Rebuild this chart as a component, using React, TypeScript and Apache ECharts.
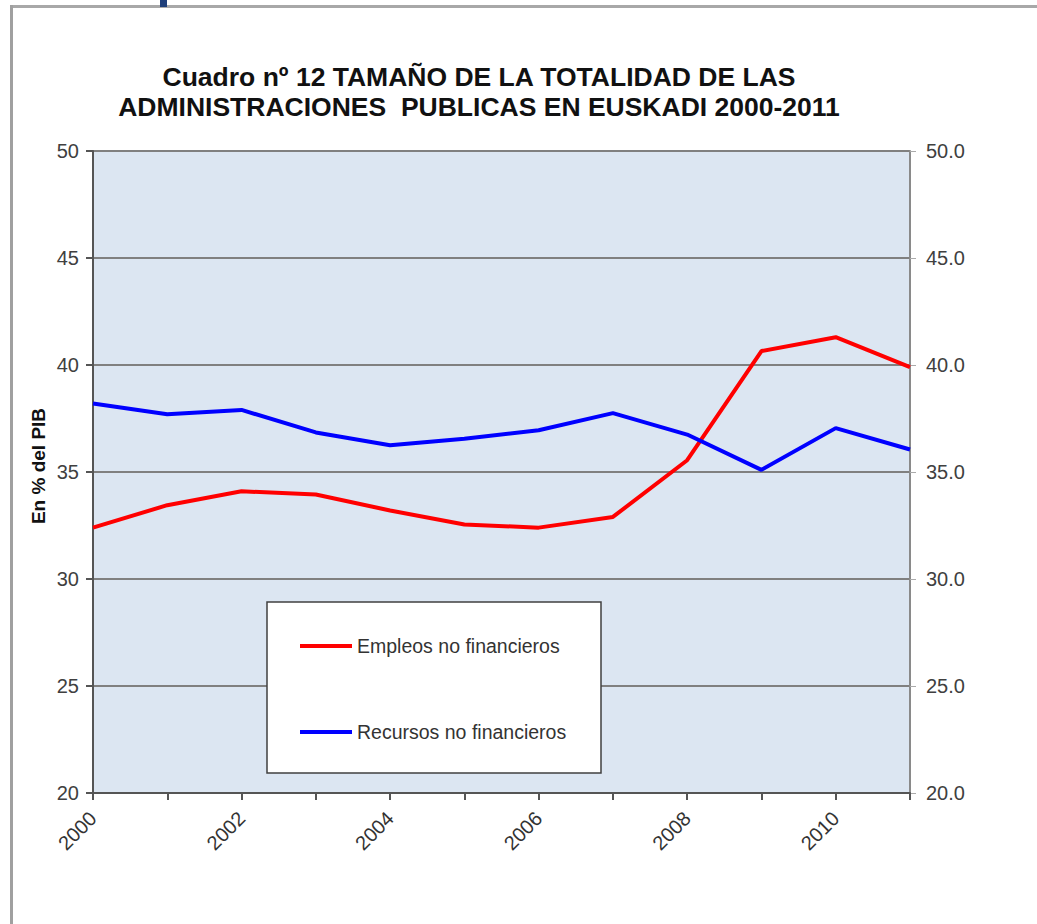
import React, { useEffect, useRef } from "react";
import * as echarts from "echarts";

const years = ["2000", "2001", "2002", "2003", "2004", "2005", "2006", "2007", "2008", "2009", "2010", "2011"];
const empleos = [32.4, 33.45, 34.1, 33.95, 33.2, 32.55, 32.4, 32.9, 35.55, 40.65, 41.3, 39.9];
const recursos = [38.2, 37.7, 37.9, 36.85, 36.25, 36.55, 36.95, 37.75, 36.75, 35.1, 37.05, 36.05];
const titleLines = ["Cuadro nº 12 TAMAÑO DE LA TOTALIDAD DE LAS", "ADMINISTRACIONES  PUBLICAS EN EUSKADI 2000-2011"];
const yAxisName = "En % del PIB";
const seriesNames = ["Empleos no financieros", "Recursos no financieros"];

export default function App() {
  const ref = useRef<HTMLDivElement>(null);
  useEffect(() => {
    if (!ref.current) return;
    const chart = echarts.init(ref.current, null, { renderer: "svg" });
    chart.setOption({
      animation: false,
      backgroundColor: "#ffffff",
      title: {
        text: titleLines.join("\n"),
        left: 474,
        textAlign: "center",
        top: 57,
        textStyle: { fontFamily: "Liberation Sans, Arial", fontWeight: "bold", fontSize: 26.5, color: "#111", lineHeight: 30 },
      },
      grid: { left: 93, right: 127, top: 151, bottom: 131 },
      legend: {
        orient: "vertical",
        left: 295,
        top: 631,
        itemGap: 66,
        itemWidth: 52,
        itemHeight: 4,
        icon: "rect",
        z: 20,
        textStyle: { fontFamily: "Liberation Sans, Arial", fontSize: 19.5, color: "#333" },
        data: seriesNames,
      },
      graphic: [
        { type: "line", shape: { x1: 10, y1: 6.5, x2: 1037, y2: 6.5 }, style: { stroke: "#a8a8a8", lineWidth: 3 } },
        { type: "line", shape: { x1: 11.5, y1: 5, x2: 11.5, y2: 924 }, style: { stroke: "#a0a0a0", lineWidth: 3 } },
        { type: "rect", shape: { x: 160, y: 0, width: 7, height: 7 }, style: { fill: "#1f3f7a" } },
        { type: "rect", z: 10, shape: { x: 267, y: 602, width: 334, height: 171 }, style: { fill: "#ffffff", stroke: "#404040", lineWidth: 1.5 } },
        {
          type: "text",
          x: 38,
          y: 466,
          rotation: Math.PI / 2,
          style: { text: yAxisName, fontFamily: "Liberation Sans, Arial", fontWeight: "bold", fontSize: 19, fill: "#111", align: "center", verticalAlign: "middle" },
        },
      ],
      xAxis: {
        type: "category",
        data: years,
        boundaryGap: false,
        axisLine: { lineStyle: { color: "#555", width: 2 } },
        axisTick: { interval: 0, length: 7, lineStyle: { color: "#555", width: 2 } },
        axisLabel: { interval: 1, rotate: 45, margin: 22, fontFamily: "Liberation Sans, Arial", fontSize: 20, color: "#333" },
        splitLine: { show: false },
      },
      yAxis: [
        {
          type: "value",
          min: 20,
          max: 50,
          interval: 5,
          axisLine: { show: true, lineStyle: { color: "#555", width: 2 } },
          axisTick: { show: true, length: 7, lineStyle: { color: "#555", width: 2 } },
          axisLabel: { margin: 14, fontFamily: "Liberation Sans, Arial", fontSize: 20, color: "#404040" },
          splitLine: { lineStyle: { color: "#808080", width: 2 } },
          splitArea: { show: true, areaStyle: { color: ["#dce6f2", "#dce6f2"] } },
        },
        {
          type: "value",
          min: 20,
          max: 50,
          interval: 5,
          position: "right",
          axisLine: { show: true, lineStyle: { color: "#8a8a8a", width: 2 } },
          axisTick: { show: true, length: 6, lineStyle: { color: "#aaa", width: 1 } },
          axisLabel: { margin: 16, fontFamily: "Liberation Sans, Arial", fontSize: 20, color: "#404040", formatter: (v: number) => v.toFixed(1) },
          splitLine: { show: false },
        },
      ],
      series: [
        { name: seriesNames[0], type: "line", data: empleos, symbol: "none", lineStyle: { color: "#ff0000", width: 4 }, itemStyle: { color: "#ff0000" } },
        { name: seriesNames[1], type: "line", data: recursos, symbol: "none", lineStyle: { color: "#0000ff", width: 4 }, itemStyle: { color: "#0000ff" } },
      ],
    });
    return () => chart.dispose();
  }, []);
  return <div ref={ref} style={{ position: "absolute", left: 0, top: 0, width: 1037, height: 924 }} />;
}
